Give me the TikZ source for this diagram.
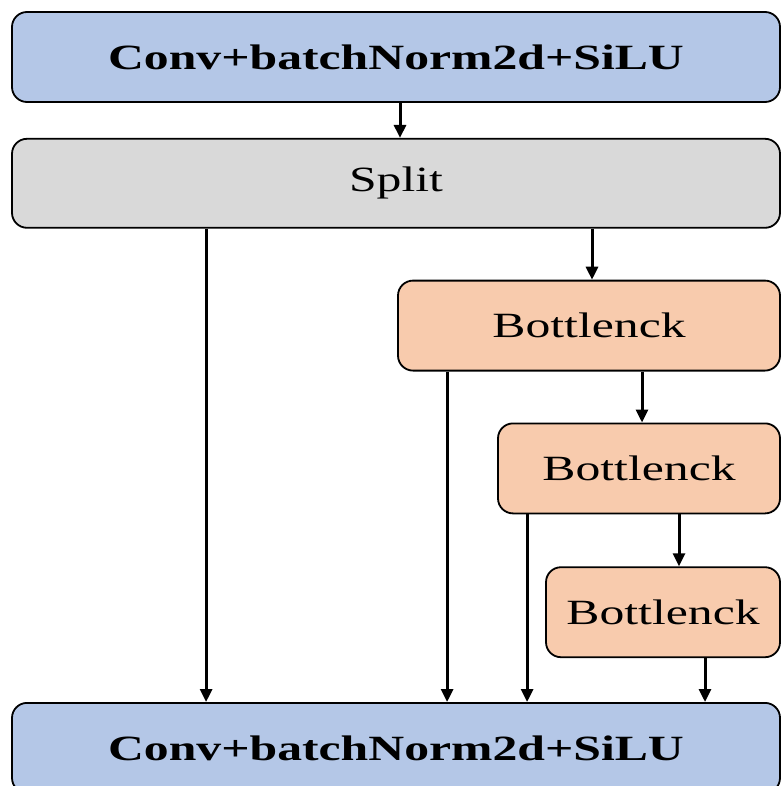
\documentclass[tikz,border=0pt]{standalone}
\usepackage{fontspec}
\setmainfont{Liberation Serif}[FakeStretch=1.4]
\usepackage{tikz}
\usetikzlibrary{arrows.meta,positioning,calc}
\definecolor{convBlue}{HTML}{B4C7E7}
\definecolor{splitGray}{HTML}{D9D9D9}
\definecolor{bneckOrange}{HTML}{F8CBAD}

\begin{document}
\begin{tikzpicture}[
    x=1pt, y=-1pt,
    node distance=35pt,
    layer/.style={rectangle, draw, line width=1.8pt, rounded corners=15pt,
                  minimum height=90pt, inner sep=0pt,
                  font=\fontsize{35.5}{40}\selectfont},
    convlayer/.style={layer, fill=convBlue, minimum width=768pt,
                  font=\fontsize{35.5}{40}\selectfont\bfseries},
    bneck/.style={layer, fill=bneckOrange},
    arrow/.style={-{Triangle[length=13pt, width=12pt]}, line width=3pt},
]
    \useasboundingbox (0,0) rectangle (782,786);
    \clip (0,0) rectangle (782,786);

    \node[convlayer] (conv1) at (396,57) {Conv+batchNorm2d+SiLU};
    \node[layer, fill=splitGray, minimum width=768pt, minimum height=89pt,
          below=of conv1] (split) {Split};
    \node[bneck, minimum width=382pt, below=51pt of split.south east,
          anchor=north east] (b1) {Bottlenck};
    \node[bneck, minimum width=282pt, below=51pt of b1.south east,
          anchor=north east] (b2) {Bottlenck};
    \node[bneck, minimum width=234pt, below=52pt of b2.south east,
          anchor=north east] (b3) {Bottlenck};
    \node[convlayer, anchor=north] (conv2) at (396,702) {Conv+batchNorm2d+SiLU};

    % shortcut taps into the last conv
    \coordinate (tap0) at ([xshift=195pt]split.south west);
    \coordinate (tap1) at ([xshift=50pt]b1.south west);
    \coordinate (tap2) at ([xshift=30pt]b2.south west);
    \coordinate (tap3) at ([xshift=42pt]b3.south);
    \coordinate (b2b3) at ([xshift=16pt]b3.north);

    \draw[arrow] ([xshift=4pt]conv1.south) -- ([xshift=4pt]split.north);
    \draw[arrow] ([xshift=3pt]b1.north |- split.south) -- ([xshift=3pt]b1.north);
    \draw[arrow] ([xshift=3pt]b2.north |- b1.south) -- ([xshift=3pt]b2.north);
    \draw[arrow] (b2b3 |- b2.south) -- (b2b3);
    \draw[arrow] (tap0) -- (tap0 |- conv2.north);
    \draw[arrow] (tap1) -- (tap1 |- conv2.north);
    \draw[arrow] (tap2) -- (tap2 |- conv2.north);
    \draw[arrow] (tap3) -- (tap3 |- conv2.north);
\end{tikzpicture}
\end{document}
